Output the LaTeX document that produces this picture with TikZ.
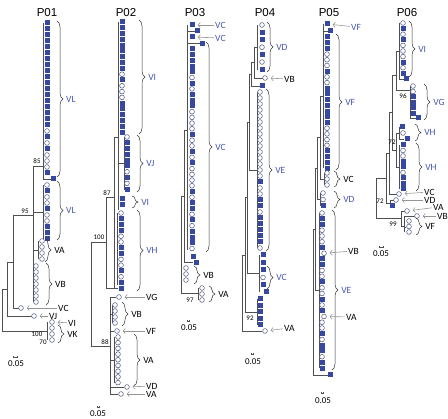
\documentclass[tikz,border=0pt]{standalone}
\usepackage{fontspec}
\setmainfont{Carlito}
\newfontfamily\titlefont{Liberation Sans}
\usetikzlibrary{arrows.meta,decorations.pathreplacing}

\definecolor{tipblue}{RGB}{55,72,160}
\definecolor{lblblue}{RGB}{70,85,175}
\definecolor{cirline}{RGB}{80,90,135}
\definecolor{treegray}{RGB}{80,80,80}
\definecolor{arrgray}{RGB}{150,150,150}

% a column of tips: name, x, first y, pitch, list of tip styles
\newcommand\tiprow[5]{\foreach \k [count=\i from 0] in {#5} \node[\k] (#1-\i) at (#2,{#3+\i*#4}) {};}
% a brace with its label: name, x, top, bottom, label, label style
\newcommand\clade[6]{\draw[brc] (#2,#3) -- (#2,#4) node[midway,anchor=west,xshift=8pt,#6] (#1) {#5};}

\begin{document}
\begin{tikzpicture}[x=1pt,y=-1pt,
    sq/.style={rectangle,fill=tipblue,minimum size=5pt,inner sep=0pt},
    ci/.style={circle,draw=cirline,fill=white,line width=0.55pt,minimum size=4.8pt,inner sep=0pt},
    sk/.style={inner sep=0pt},
    br/.style={treegray,line width=0.65pt},
    brc/.style={decorate,decoration={brace,amplitude=6pt,aspect=0.5},black!80,line width=0.5pt},
    bl/.style={text=lblblue,inner sep=1pt,font=\fontsize{9.5}{10}\selectfont},
    bk/.style={text=black,inner sep=1pt,font=\fontsize{9.5}{10}\selectfont},
    pointer/.style={arrgray,line width=0.6pt,-{Straight Barb[length=2.2pt,width=5pt]},shorten >=3pt},
    boot/.style={inner sep=0.5pt,font=\fontsize{7}{7}\selectfont},
    ttl/.style={font=\titlefont\fontsize{11.5}{12}\selectfont},
    bar/.style={treegray,line width=0.6pt,{Bar[width=2pt]}-{Bar[width=2pt]}},
    barlbl/.style={inner sep=0.5pt,font=\fontsize{9}{9}\selectfont}]
\useasboundingbox (0,0) rectangle (448,419);

% titles
\node[ttl] (t1) at (47,13) {P01};
\node[ttl] (t2) at (126,13) {P02};
\node[ttl] (t3) at (195,13) {P03};
\node[ttl] (t4) at (265,13) {P04};
\node[ttl] (t5) at (329,13) {P05};
\node[ttl] (t6) at (407,13) {P06};

%%% P01
\draw[br] (43,23) -- (43,179) -- (51,179);
\draw[br] (43,185) -- (43,239);
\draw[br] (33,166) -- (43,166) (33,166) -- (33,302) (33,212) -- (43,212);
\draw[br] (33,250) -- (38,250) (38,241) -- (38,259);
\draw[br] (13,215) -- (33,215) (13,215) -- (13,308) -- (19,308);
\draw[br] (7,262) -- (13,262) (7,262) -- (7,316) -- (32,316);
\draw[br] (2,289) -- (7,289) (2,289) -- (2,331) -- (47,331);
\draw[br] (47,322) -- (47,340);
\tiprow{a1}{47}{23}{6}{sq,sq,sq,sq,sq,sq,sq,sq,sq,sq,sq,sq,sq,sq,sq,sq,sq,sq,ci,sq,ci,sq,ci,ci,ci,sq}
\node[sq] (p1s) at (53,179) {};
\tiprow{a2}{47}{185}{6}{ci,sq,ci,ci,sq,ci,ci,sq,sq,sq}
\tiprow{a3}{42}{241}{6}{ci,ci,ci,ci}
\tiprow{a4}{36}{266}{6}{ci,ci,ci,ci,ci,ci,ci}
\node[ci] (p1vc) at (21,308) {};
\node[ci] (p1vj) at (34,316) {};
\node[ci] (p1vi) at (52,322) {};
\tiprow{a5}{52}{328}{6}{ci,ci,ci}
\clade{p1l1}{57}{21}{177}{VL}{bl}
\clade{p1l2}{57}{181}{240}{VL}{bl}
\clade{p1l3}{45}{238}{262}{VA}{bk}
\clade{p1l4}{46}{263}{305}{VB}{bk}
\clade{p1l5}{58}{325}{343}{VK}{bk}
\node[bk,anchor=west] (p1vcl) at (57,308) {VC};
\node[bk,anchor=west] (p1vjl) at (48,316) {VJ};
\node[bk,anchor=west] (p1vil) at (67,323) {VI};
\draw[pointer] (p1vcl) -- (p1vc);
\draw[pointer] (p1vjl) -- (p1vj);
\draw[pointer] (p1vil) -- (p1vi);
\node[boot] (b85) at (37,161) {85};
\node[boot] (b95) at (25,211) {95};
\node[boot] (b100a) at (37,334) {100};
\node[boot] (b70) at (43,342) {70};
\draw[bar] (13,357) -- (18,357);
\node[barlbl] (s1) at (16,364) {0.05};

%%% P02
\draw[br] (118,22) -- (118,210);
\draw[br] (124,137) -- (124,190) (118,163) -- (124,163);
\draw[br] (114,137) -- (118,137) (114,137) -- (114,288);
\draw[br] (117,213) -- (117,285);
\draw[br] (106,197) -- (114,197) (106,197) -- (106,288) -- (118,288);
\draw[br] (91,242) -- (106,242) (91,242) -- (91,346) -- (110,346);
\draw[br] (110,297) -- (110,394) (110,297) -- (116,297) (110,314) -- (112,314) (112,305) -- (112,323);
\draw[br] (110,331) -- (114,331) (110,360) -- (114,360) (114,337) -- (114,383);
\draw[br] (110,387) -- (124,387) (110,394) -- (118,394);
\tiprow{b1}{122}{22}{5.8}{sq,sq,sq,sq,sq,sq,sq,sq,sq,ci,sq,ci,ci,ci,sq,sq,sq,sq,sq,sq}
\tiprow{b2}{127}{137}{5.8}{ci,sq,sq,sq,sq,sq,ci,sq,ci,sq}
\tiprow{b3}{122}{199}{6}{sq,sq}
\tiprow{b4}{121}{213}{5.8}{ci,sq,sq,sq,ci,ci,sq,sq,ci,ci,sq,ci,sq,sq}
\node[ci] (p2vg) at (119,297) {};
\tiprow{b5}{115}{305}{6}{ci,ci,ci,ci}
\node[ci] (p2vf) at (117,331) {};
\tiprow{b6}{118}{337}{5.7}{ci,ci,ci,ci,ci,ci,ci,ci,ci}
\node[ci] (p2vd) at (127,387) {};
\node[ci] (p2va) at (121,394) {};
\clade{p2l1}{139}{20}{134}{VI}{bl}
\clade{p2l2}{137}{135}{192}{VJ}{bl}
\clade{p2l3}{132}{196}{208}{VI}{bl}
\clade{p2l4}{137}{210}{291}{VH}{bl}
\clade{p2l5}{122}{302}{326}{VB}{bk}
\clade{p2l6}{134}{334}{386}{VA}{bk}
\node[bk,anchor=west] (p2vgl) at (145,297) {VG};
\node[bk,anchor=west] (p2vfl) at (145,331) {VF};
\node[bk,anchor=west] (p2vdl) at (145,386) {VD};
\node[bk,anchor=west] (p2val) at (145,394) {VA};
\draw[pointer] (p2vgl) -- (p2vg);
\draw[pointer] (p2vfl) -- (p2vf);
\draw[pointer] (p2vdl) -- (p2vd);
\draw[pointer] (p2val) -- (p2va);
\node[boot] (b87) at (107,193) {87};
\node[boot] (b100b) at (99,237) {100};
\node[boot] (b88) at (105,342) {88};
\draw[bar] (97,407) -- (100,407);
\node[barlbl] (s2) at (98,414) {0.05};

%%% P03
\draw[br] (187,25) -- (187,250) (187,31) -- (195,31) (187,43) -- (200,43);
\draw[br] (184,130) -- (187,130) (184,130) -- (184,262) -- (193,262);
\draw[br] (181,196) -- (184,196) (181,196) -- (181,293) -- (198,293) (198,288) -- (198,300);
\node[sq] (p3c1) at (192,25) {};
\node[sq] (p3s2) at (197,31) {};
\node[sq] (p3c2) at (192,37) {};
\node[sq] (p3s4) at (202,44) {};
\tiprow{c1}{192}{49}{5.7}{sq,sq,sq,sq,sq,ci,sq,ci,sq,sq,sq,ci,ci,ci,ci,sq,ci,ci,sq,ci,sq,ci,ci,ci,ci,sq,ci,sq,sq,ci,sq,ci,sq,sq,sq,ci}
\node[sq] (p3s5) at (193,257) {};
\node[sq] (p3s6) at (196,263) {};
\tiprow{c2}{186}{268}{6}{ci,ci,ci}
\tiprow{c3}{202}{288}{6}{ci,ci,ci}
\clade{p3l1}{206}{42}{252}{VC}{bl}
\clade{p3l2}{194}{266}{284}{VB}{bk}
\clade{p3l3}{209}{286}{302}{VA}{bk}
\node[bl,anchor=west] (p3vc1l) at (214,25) {VC};
\node[bl,anchor=west] (p3vc2l) at (214,38) {VC};
\draw[pointer] (p3vc1l) -- (p3c1);
\draw[pointer] (p3vc2l) -- (p3c2);
\node[boot] (b97) at (190,300) {97};
\draw[bar] (187,321) -- (190,321);
\node[barlbl] (s3) at (189,328) {0.05};

%%% P04
\draw[br] (257,25) -- (257,70);
\draw[br] (254,47) -- (257,47) (254,47) -- (254,78) -- (263,78);
\draw[br] (251,62) -- (254,62) (251,62) -- (251,86) -- (260,86);
\draw[br] (257,92) -- (257,248);
\draw[br] (249,74) -- (251,74) (249,74) -- (249,170) -- (257,170);
\draw[br] (259,255) -- (259,292);
\draw[br] (247,122) -- (249,122) (247,122) -- (247,273) -- (259,273);
\draw[br] (257,299) -- (257,325);
\draw[br] (245,197) -- (247,197) (245,197) -- (245,312) -- (257,312);
\draw[br] (242,255) -- (245,255) (242,255) -- (242,331) -- (262,331);
\tiprow{d1}{262}{25}{7.4}{ci,sq,sq,ci,sq,ci,sq}
\node[ci] (p4vb) at (265,78) {};
\node[sq] (p4s1) at (262,86) {};
\tiprow{d2}{260}{92}{6}{ci,ci,ci,ci,ci,ci,ci,ci,ci,ci,ci,ci,ci,ci,ci,sq,ci,ci,sq,sq,ci,sq,sq,sq,sq,sq,ci}
\tiprow{d3}{263}{255}{7.5}{sq,sq,sq,ci,sq}
\node[sq] (p4s2) at (266,292) {};
\tiprow{d4}{260}{299}{6.5}{sq,sq,sq,sq,sq}
\node[ci] (p4va) at (265,331) {};
\clade{p4l1}{267}{22}{72}{VD}{bl}
\clade{p4l2}{266}{89}{251}{VE}{bl}
\clade{p4l3}{267}{266}{289}{VC}{bl}
\node[bk,anchor=west] (p4vbl) at (283,79) {VB};
\node[bk,anchor=west] (p4val) at (283,328) {VA};
\draw[pointer] (p4vbl) -- (p4vb);
\draw[pointer] (p4val) -- (p4va);
\node[boot] (b92) at (250,318) {92};
\draw[bar] (251,354) -- (254,354);
\node[barlbl] (s4) at (253,362) {0.05};

%%% P05
\draw[br] (323,24) -- (323,168) (323,31) -- (328,31);
\draw[br] (324,173) -- (324,185);
\draw[br] (320,96) -- (323,96) (320,96) -- (320,179) -- (324,179);
\draw[br] (320,193) -- (320,206);
\draw[br] (317,137) -- (320,137) (317,137) -- (317,199) -- (320,199);
\draw[br] (319,213) -- (319,368);
\draw[br] (315,168) -- (317,168) (315,168) -- (315,290) -- (319,290);
\draw[br] (313,229) -- (315,229) (313,229) -- (313,375) -- (328,375);
\node[sq] (p5vf) at (327,24) {};
\node[sq] (p5s1) at (330,31) {};
\tiprow{e1}{327}{37}{5.7}{sq,sq,sq,ci,ci,ci,sq,ci,ci,sq,sq,sq,sq,sq,sq,sq,ci,ci,ci,ci,sq,sq,sq,sq}
\tiprow{e2}{327}{173}{6}{ci,ci,ci}
\tiprow{e3}{323}{193}{6.5}{ci,ci,sq}
\tiprow{e4}{322}{213}{5.75}{ci,sq,sq,ci,ci,ci,sq,sk,sq,sq,ci,ci,sq,ci,ci,sq,ci,sq,sk,ci,ci,sq,ci,sq,sq,ci,sq,sq}
\node[ci] (p5vb) at (324,253.25) {};
\node[ci] (p5va) at (324,316.5) {};
\node[sq] (p5s2) at (330,375) {};
\clade{p5l1}{336}{34}{170}{VF}{bl}
\clade{p5l2}{334}{171}{187}{VC}{bk}
\clade{p5l3}{334}{191}{208}{VD}{bl}
\clade{p5l4}{332}{210}{370}{VE}{bl}
\node[bl,anchor=west] (p5vfl) at (350,27) {VF};
\node[bk,anchor=west] (p5vbl) at (347,251) {VB};
\node[bk,anchor=west] (p5val) at (345,317) {VA};
\draw[pointer] (p5vfl) -- (p5vf);
\draw[pointer] (p5vbl) -- (p5vb);
\draw[pointer] (p5val) -- (p5va);
\draw[bar] (321,393) -- (324,393);
\node[barlbl] (s5) at (323,401) {0.05};

%%% P06
\draw[br] (399,23) -- (399,79) -- (404,79);
\draw[br] (410,86) -- (410,118) -- (416,118);
\draw[br] (396,51) -- (399,51) (396,51) -- (396,90) -- (410,90);
\draw[br] (399,127) -- (399,139) -- (404,139);
\draw[br] (399,145) -- (399,189);
\draw[br] (396,133) -- (399,133) (396,133) -- (396,167) -- (399,167);
\draw[br] (392,75) -- (396,75) (392,75) -- (392,150) -- (396,150);
\draw[br] (389,112) -- (392,112) (389,112) -- (389,194) -- (397,194);
\draw[br] (386,153) -- (389,153) (386,153) -- (386,203) -- (390,203) (390,200) -- (394,200) (390,200) -- (390,206);
\draw[br] (376,178) -- (386,178) (376,178) -- (376,218) -- (401,218);
\draw[br] (401,211) -- (405,211) (401,211) -- (401,226) -- (404,226);
\draw[br] (404,216) -- (415,216) (404,216) -- (404,232) (404,227) -- (406,227);
\tiprow{f1}{403}{23}{5.6}{ci,sq,ci,sq,ci,ci,ci,sq,ci,sq}
\node[sq] (p6s1) at (406,79) {};
\tiprow{f2}{413}{86}{5.5}{ci,ci,sq,sq,sq,sq}
\node[sq] (p6s2) at (418,118) {};
\node[sq] (p6s3) at (402,127) {};
\node[ci] (p6c1) at (403,133) {};
\node[sq] (p6s4) at (407,139) {};
\tiprow{f3}{403}{145}{5.5}{sq,ci,ci,sq,sq,ci,sq,sq,sq}
\node[ci] (p6vc) at (399,194) {};
\node[ci] (p6vd) at (396,200) {};
\node[sq] (p6s5) at (392,206) {};
\node[ci] (p6va) at (407,211) {};
\node[ci] (p6vb) at (417,216) {};
\tiprow{f4}{409}{221}{5.5}{ci,ci,ci}
\clade{p6l1}{409}{21}{77}{VI}{bl}
\clade{p6l2}{424}{84}{120}{VG}{bl}
\clade{p6l3}{415}{124}{141}{VH}{bl}
\clade{p6l4}{416}{143}{191}{VH}{bl}
\clade{p6l5}{416}{218}{235}{VF}{bk}
\node[bk,anchor=west] (p6vcl) at (423,192) {VC};
\node[bk,anchor=west] (p6vdl) at (423,200) {VD};
\node[bk,anchor=west] (p6val) at (432,207) {VA};
\node[bk,anchor=west] (p6vbl) at (436,216) {VB};
\draw[pointer] (p6vcl) -- (p6vc);
\draw[pointer] (p6vdl) -- (p6vd);
\draw[pointer] (p6val) -- (p6va);
\draw[pointer] (p6vbl) -- (p6vb);
\node[boot] (b96) at (403,96) {96};
\node[boot] (b72a) at (392,142) {72};
\node[boot] (b72b) at (380,201) {72};
\node[boot] (b99) at (393,224) {99};
\draw[bar] (379,247) -- (384,247);
\node[barlbl] (s6) at (381,254) {0.05};
\end{tikzpicture}
\end{document}
